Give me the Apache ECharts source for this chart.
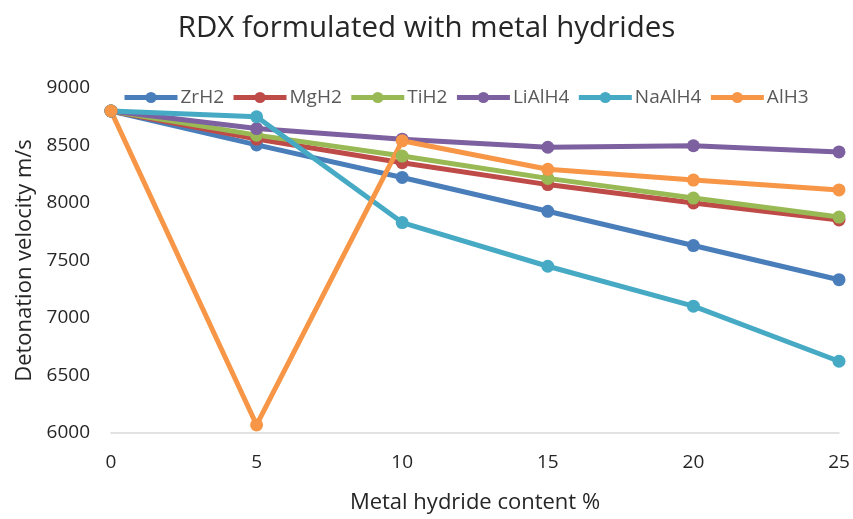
<!DOCTYPE html>
<html><head><meta charset="utf-8">
<script src="https://cdn.jsdelivr.net/npm/echarts@6/dist/echarts.min.js"></script>
<style>html,body{margin:0;padding:0;background:#fff}#c{width:853px;height:519px}</style>
</head><body><div id="c"></div>
<script>
const categories = ['0','5','10','15','20','25'];
const ZrH2   = [8800, 8505, 8222, 7928, 7630, 7333];
const MgH2   = [8800, 8556, 8350, 8160, 8000, 7852];
const TiH2   = [8800, 8590, 8408, 8214, 8043, 7878];
const LiAlH4 = [8800, 8647, 8555, 8485, 8498, 8444];
const NaAlH4 = [8800, 8750, 7830, 7450, 7103, 6624];
const AlH3   = [8800, 6070, 8541, 8293, 8199, 8114];
const seriesNames = ['ZrH2','MgH2','TiH2','LiAlH4','NaAlH4','AlH3'];
const seriesData = [ZrH2, MgH2, TiH2, LiAlH4, NaAlH4, AlH3];
const colors = ['#4a7ebb','#be4b48','#98b954','#7d60a0','#46aac5','#f79646'];
const font = 'Open Sans';
const chart = echarts.init(document.getElementById('c'));
chart.setOption({
  animation: false,
  color: colors,
  title: {text: 'RDX formulated with metal hydrides', left: 'center', top: 9,
    textStyle: {fontFamily: font, fontSize: 29.5, fontWeight: 'normal', color: '#262626'}},
  legend: {left: 117, top: 83, itemWidth: 53, itemHeight: 14, itemGap: 7,
    lineStyle: {width: 5},
    textStyle: {fontFamily: font, fontSize: 19, color: '#595959', padding: [0,0,0,-2]}},
  grid: {left: 111, right: 14, top: 88, bottom: 80},
  xAxis: {type: 'category', data: categories, boundaryGap: false,
    name: 'Metal hydride content %', nameLocation: 'middle', nameGap: 59,
    nameTextStyle: {fontFamily: font, fontSize: 22, color: '#262626'},
    axisLine: {lineStyle: {color: '#d9d9d9', width: 1.5}}, axisTick: {show: false},
    axisLabel: {fontFamily: font, fontSize: 19, color: '#262626', margin: 20}},
  yAxis: {type: 'value', min: 6000, max: 9000, interval: 500,
    name: 'Detonation velocity m/s', nameLocation: 'middle', nameGap: 74,
    nameTextStyle: {fontFamily: font, fontSize: 22, color: '#262626'},
    splitLine: {show: false}, axisLine: {show: false}, axisTick: {show: false},
    axisLabel: {fontFamily: font, fontSize: 19, color: '#262626', margin: 21,
      formatter: v => String(v)}},
  series: seriesNames.map((n, i) => ({
    name: n, type: 'line', data: seriesData[i], symbol: 'circle', symbolSize: 13,
    lineStyle: {width: 5}, itemStyle: {color: colors[i]}
  }))
});
</script></body></html>
